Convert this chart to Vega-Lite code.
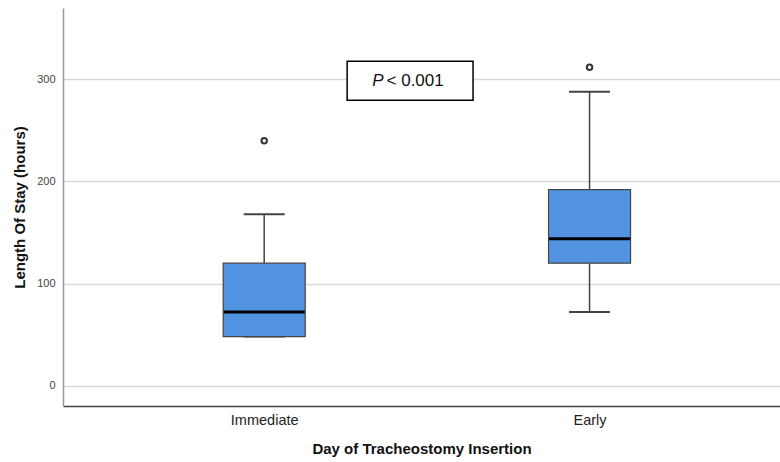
{
  "$schema": "https://vega.github.io/schema/vega-lite/v6.json",
  "width": 717,
  "height": 398,
  "autosize": "none",
  "padding": {"left": 63, "top": 8, "right": 0, "bottom": 56},
  "background": "white",
  "config": {
    "view": {"stroke": null},
    "font": "Liberation Sans"
  },
  "datasets": {
    "stats": [
      {"group": "Immediate", "pos": 1, "lower": 48, "q1": 48, "median": 72, "q3": 120, "upper": 168},
      {"group": "Early", "pos": 2, "lower": 72, "q1": 120, "median": 144, "q3": 192, "upper": 288}
    ],
    "outliers": [
      {"group": "Immediate", "pos": 1, "value": 240},
      {"group": "Early", "pos": 2, "value": 312}
    ]
  },
  "layer": [
    {
      "data": {"name": "stats"},
      "mark": {"type": "rule", "color": "#444444", "strokeWidth": 1.5},
      "encoding": {
        "x": {
          "field": "pos", "type": "quantitative",
          "scale": {"domain": [0.397, 2.57], "nice": false, "zero": false},
          "axis": {
            "values": [1, 2],
            "labelExpr": "datum.value == 1 ? 'Immediate' : 'Early'",
            "title": "Day of Tracheostomy Insertion",
            "titleFontWeight": "bold", "titleFontSize": 15, "titleColor": "#111111",
            "titlePadding": 15,
            "labelFontSize": 14.5, "labelColor": "#222222", "labelPadding": 7,
            "ticks": false, "grid": false,
            "domainColor": "#444444", "domainWidth": 1.5
          }
        },
        "y": {
          "field": "lower", "type": "quantitative",
          "scale": {"domain": [-20, 370], "nice": false, "zero": false},
          "axis": {
            "values": [0, 100, 200, 300],
            "title": "Length Of Stay (hours)",
            "titleFontWeight": "bold", "titleFontSize": 15, "titleColor": "#111111",
            "titlePadding": 9,
            "labelFontSize": 11, "labelColor": "#444444", "labelPadding": 8,
            "ticks": false,
            "grid": true, "gridColor": "#d9d9d9", "gridWidth": 1.5,
            "domainColor": "#999999", "domainWidth": 1.5
          }
        },
        "y2": {"field": "upper"}
      }
    },
    {
      "data": {"name": "stats"},
      "mark": {"type": "tick", "orient": "horizontal", "size": 41, "thickness": 2, "color": "#444444", "opacity": 1},
      "encoding": {
        "x": {"field": "pos", "type": "quantitative"},
        "y": {"field": "upper", "type": "quantitative"}
      }
    },
    {
      "data": {"name": "stats"},
      "mark": {"type": "tick", "orient": "horizontal", "size": 41, "thickness": 2, "color": "#444444", "opacity": 1},
      "encoding": {
        "x": {"field": "pos", "type": "quantitative"},
        "y": {"field": "lower", "type": "quantitative"}
      }
    },
    {
      "data": {"name": "stats"},
      "mark": {"type": "bar", "size": 82, "orient": "vertical", "fill": "#5294E2", "stroke": "#444444", "strokeWidth": 1.2, "opacity": 1},
      "encoding": {
        "x": {"field": "pos", "type": "quantitative"},
        "y": {"field": "q1", "type": "quantitative"},
        "y2": {"field": "q3"}
      }
    },
    {
      "data": {"name": "stats"},
      "mark": {"type": "tick", "orient": "horizontal", "size": 81, "thickness": 3, "color": "#000000", "opacity": 1},
      "encoding": {
        "x": {"field": "pos", "type": "quantitative"},
        "y": {"field": "median", "type": "quantitative"}
      }
    },
    {
      "data": {"name": "outliers"},
      "mark": {"type": "point", "shape": "circle", "filled": false, "size": 30, "strokeWidth": 2, "color": "#333333", "opacity": 1},
      "encoding": {
        "x": {"field": "pos", "type": "quantitative"},
        "y": {"field": "value", "type": "quantitative"}
      }
    },
    {
      "data": {"values": [{"x1": 1.255, "x2": 1.642, "y1": 279.5, "y2": 317.7}]},
      "mark": {"type": "rect", "fill": "white", "stroke": "#000000", "strokeWidth": 1.5},
      "encoding": {
        "x": {"field": "x1", "type": "quantitative"},
        "x2": {"field": "x2"},
        "y": {"field": "y1", "type": "quantitative"},
        "y2": {"field": "y2"}
      }
    },
    {
      "data": {"values": [{"label": "P", "x": 1.367, "y": 298.6}]},
      "mark": {"type": "text", "align": "right", "baseline": "middle", "fontSize": 17, "fontStyle": "italic", "color": "#111111"},
      "encoding": {
        "x": {"field": "x", "type": "quantitative"},
        "y": {"field": "y", "type": "quantitative"},
        "text": {"field": "label"}
      }
    },
    {
      "data": {"values": [{"label": "< 0.001", "x": 1.376, "y": 298.6}]},
      "mark": {"type": "text", "align": "left", "baseline": "middle", "fontSize": 17, "color": "#111111"},
      "encoding": {
        "x": {"field": "x", "type": "quantitative"},
        "y": {"field": "y", "type": "quantitative"},
        "text": {"field": "label"}
      }
    }
  ]
}
